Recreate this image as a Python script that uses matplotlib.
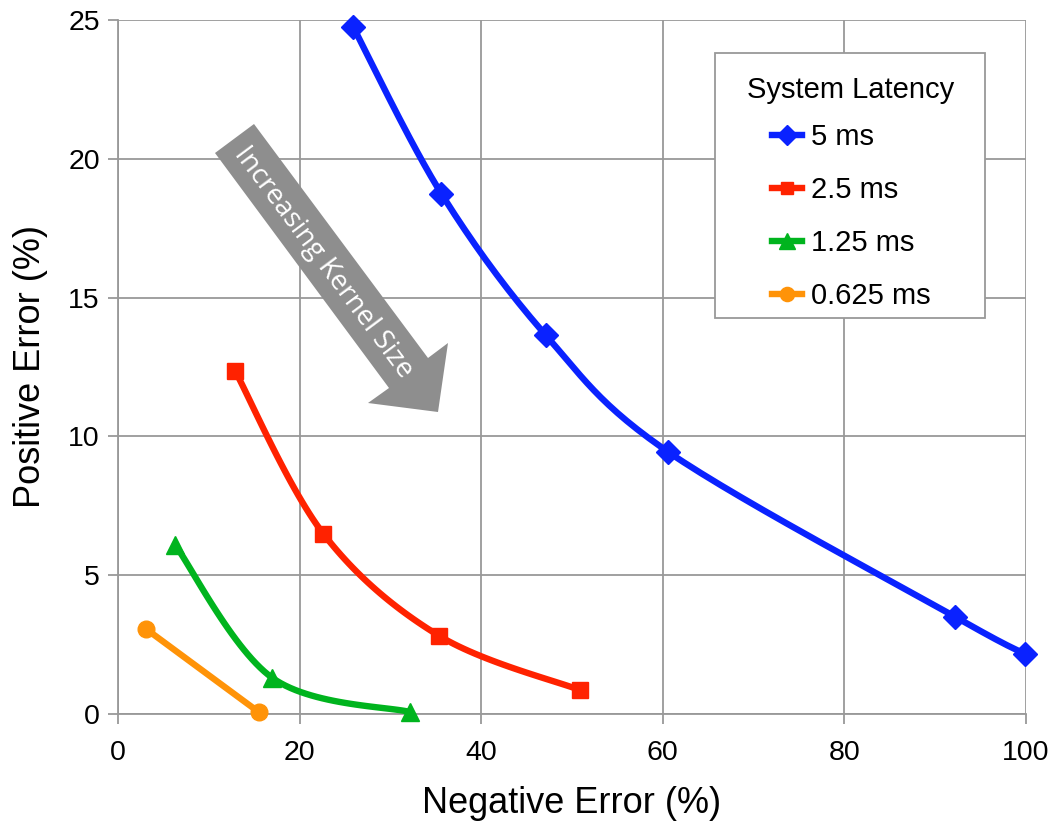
import numpy as np
import matplotlib

matplotlib.use("Agg")
import matplotlib.pyplot as plt
from matplotlib.patches import Polygon, Rectangle

plt.rcParams["font.family"] = ["Liberation Sans", "DejaVu Sans"]

# Data: (negative error %, positive error %)
labels = ["5 ms", "2.5 ms", "1.25 ms", "0.625 ms"]
neg_5 = [25.9, 35.6, 47.1, 60.6, 92.2, 99.9]
pos_5 = [24.75, 18.75, 13.65, 9.44, 3.5, 2.16]
neg_25 = [12.9, 22.6, 35.4, 50.9]
pos_25 = [12.36, 6.5, 2.81, 0.86]
neg_125 = [6.3, 17.0, 32.2]
pos_125 = [6.09, 1.3, 0.07]
neg_0625 = [3.1, 15.5]
pos_0625 = [3.06, 0.07]

colors = ["#0A22FF", "#FF2200", "#00B41E", "#FF9308"]
markers = ["D", "s", "^", "o"]
msizes = [12, 11, 13, 12]

W, H = 1053, 825
fig = plt.figure(figsize=(W / 100, H / 100), dpi=100)
L, R, T, B = 118, 1026, 20, 714
ax = fig.add_axes([L / W, 1 - B / H, (R - L) / W, (B - T) / H])


def smooth(x, y, sx, sy, n=30):
    # Excel-style smoothed line (Catmull-Rom bezier), done in screen-ish units
    p = np.column_stack([np.asarray(x) * sx, np.asarray(y) * sy])
    if len(p) < 3:
        return np.asarray(x), np.asarray(y)
    ext = np.vstack([p[0], p, p[-1]])
    out = []
    t = np.linspace(0, 1, n)[:, None]
    for i in range(1, len(ext) - 2):
        p0, p3 = ext[i], ext[i + 1]
        p1 = p0 + (ext[i + 1] - ext[i - 1]) / 6
        p2 = p3 - (ext[i + 2] - ext[i]) / 6
        seg = (1 - t) ** 3 * p0 + 3 * (1 - t) ** 2 * t * p1 + 3 * (1 - t) * t ** 2 * p2 + t ** 3 * p3
        out.append(seg if i == 1 else seg[1:])
    out = np.vstack(out)
    return out[:, 0] / sx, out[:, 1] / sy


sx = (R - L) / 100
sy = (B - T) / 25
series = [(neg_5, pos_5), (neg_25, pos_25), (neg_125, pos_125), (neg_0625, pos_0625)]
for (xs, ys), c, m, ms, lab in zip(series, colors, markers, msizes, labels):
    cx, cy = smooth(xs, ys, sx, sy)
    ax.plot(cx, cy, color=c, lw=4.6, solid_capstyle="round", clip_on=False, zorder=3)
    ax.plot(xs, ys, ls="none", marker=m, ms=ms, color=c, clip_on=False, zorder=4)
    ax.plot([], [], color=c, lw=4.6, marker=m, ms=ms * 0.85, label=lab)

ax.set_xlim(0, 100)
ax.set_ylim(0, 25)
ax.set_xticks(np.arange(0, 101, 20))
ax.set_yticks(np.arange(0, 26, 5))
ax.grid(True, color="#999999", lw=1.3)
ax.set_axisbelow(True)
for s in ["top", "right"]:
    ax.spines[s].set_visible(False)
for s in ["left", "bottom"]:
    ax.spines[s].set_color("#999999")
    ax.spines[s].set_linewidth(1.3)
ax.tick_params(direction="out", length=7, width=1.3, color="#999999", labelsize=20.5)
ax.tick_params(axis="x", pad=12)
ax.tick_params(axis="y", pad=6)
ax.set_xlabel("Negative Error (%)", fontsize=26, labelpad=14)
ax.set_ylabel("Positive Error (%)", fontsize=26, labelpad=14.5)

# legend box drawn by hand (uneven padding in the original)
ax.add_patch(Rectangle((715 / W, 1 - 318 / H), 270 / W, 265 / H, transform=fig.transFigure,
                       facecolor="white", edgecolor="#999999", lw=1.3, zorder=4.5, clip_on=False))
leg = ax.legend(title="System Latency", loc="upper center",
                bbox_to_anchor=(851 / W, 1 - 76 / H), bbox_transform=fig.transFigure,
                fontsize=21, title_fontsize=21, frameon=False,
                handlelength=1.05, handletextpad=0.3,
                labelspacing=0.86, borderpad=0, borderaxespad=0)
leg._legend_box.sep = 13.6
leg.set_zorder(5)

# gray "Increasing Kernel Size" arrow, vertices in pixel space
arrow_px = [(215, 153), (254, 124), (428, 358), (448, 343), (438, 412), (368, 403), (389, 388)]
arrow_fig = [(px / W, 1 - py / H) for px, py in arrow_px]
fig.patches.append(Polygon(arrow_fig, closed=True, transform=fig.transFigure,
                           facecolor="#8E8E8E", edgecolor="none", zorder=2))
fig.text(323 / W, 1 - 262 / H, "Increasing Kernel Size", rotation=-53.3,
         rotation_mode="anchor", ha="center", va="center", color="white",
         fontsize=20, family=["Open Sans", "DejaVu Sans"])

fig.savefig("out.png", dpi=100)
